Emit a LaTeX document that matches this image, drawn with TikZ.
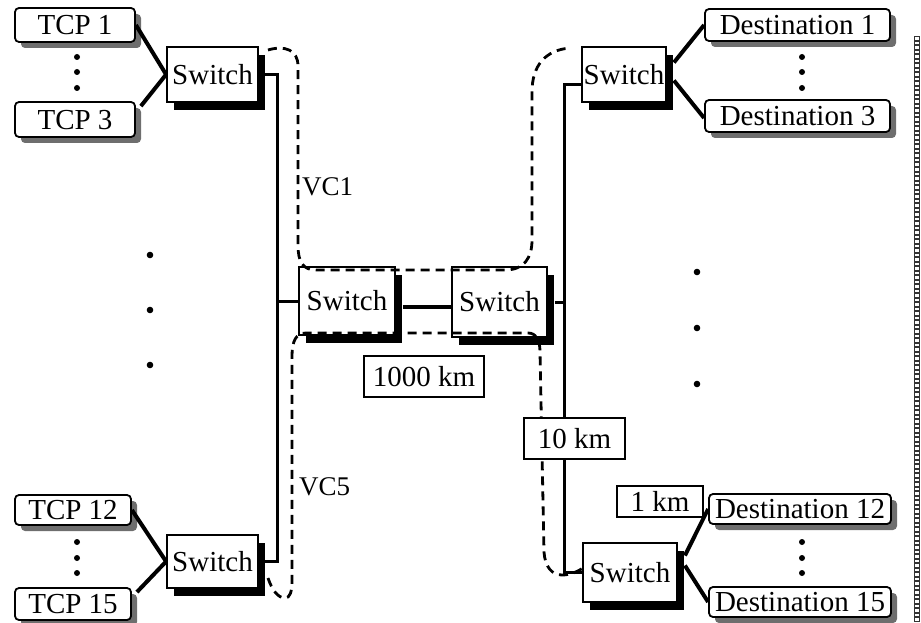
\documentclass[tikz,border=0pt]{standalone}
\usepackage{fontspec}
\setmainfont{Liberation Serif}
\usetikzlibrary{shadows,calc}
\definecolor{shadowgray}{RGB}{110,110,110}
\tikzset{
  every node/.style={font=\fontsize{29}{31}\selectfont},
  swbox/.style={draw, line width=1.8, fill=white, inner sep=0, text height=19.5, text depth=0,
    drop shadow={shadow xshift=7pt, shadow yshift=-8pt, fill=black, opacity=1}},
  hostbox/.style={draw, line width=1.8, fill=white, rounded corners=4pt, inner sep=0, text height=19.5, text depth=0,
    drop shadow={shadow xshift=6pt, shadow yshift=-6pt, fill=shadowgray, opacity=1}},
  distbox/.style={draw, line width=1.1, fill=white, inner sep=0, text height=19.5, text depth=0},
  conn/.style={line width=4},
  trunk/.style={line width=3},
  vcline/.style={line width=2.8, dash pattern=on 9pt off 6pt},
  vclabel/.style={font=\fontsize{27}{29}\selectfont, inner sep=0, anchor=west},
}
\begin{document}
\begin{tikzpicture}[x=1pt,y=-1pt]
\useasboundingbox (0,0) rectangle (921,623);

% host boxes
\node[hostbox, minimum width=120, minimum height=34] (tcp1) at (75,25) {TCP 1};
\node[hostbox, minimum width=120, minimum height=35] (tcp3) at (75,119.5) {TCP 3};
\node[hostbox, minimum width=116, minimum height=30] (tcp12) at (73,510) {TCP 12};
\node[hostbox, minimum width=116, minimum height=32] (tcp15) at (73,604) {TCP 15};
\node[hostbox, minimum width=185, minimum height=32] (d1) at (797.5,25) {Destination 1};
\node[hostbox, minimum width=185, minimum height=32] (d3) at (797.5,116) {Destination 3};
\node[hostbox, minimum width=182, minimum height=30] (d12) at (800,509) {Destination 12};
\node[hostbox, minimum width=182, minimum height=30] (d15) at (800,602) {Destination 15};

% switches
\node[swbox, minimum width=91, minimum height=55] (swTL) at (212.5,74.5) {Switch};
\node[swbox, minimum width=91, minimum height=53] (swBL) at (212.5,561.5) {Switch};
\node[swbox, minimum width=96, minimum height=68] (swML) at (347,301) {Switch};
\node[swbox, minimum width=95, minimum height=70] (swMR) at (499.5,302) {Switch};
\node[swbox, minimum width=84, minimum height=55] (swTR) at (624,74.5) {Switch};
\node[swbox, minimum width=94, minimum height=59] (swBR) at (630,572.5) {Switch};

% host connectors
\draw[conn] (tcp1.east) -- (swTL.west);
\draw[conn] ($(tcp3.north east)+(5,5)$) -- (swTL.west);
\draw[conn] (tcp12.east) -- (swBL.west);
\draw[conn] ($(tcp15.north east)+(5,5)$) -- (swBL.west);
\draw[conn] ($(swTR.east)+(7,-12)$) -- (d1.west);
\draw[conn] ($(swTR.east)+(7,6)$) -- ($(d3.west)+(0,2)$);
\draw[conn] ($(swBR.east)+(7,-17)$) -- (d12.west);
\draw[conn] ($(swBR.east)+(7,-7)$) -- (d15.west);

% trunks
\draw[trunk] (swTL.east) -- ++(19,0) |- (swBL.east);
\draw[trunk] (swML.west) -- ++(-22,0);
\draw[trunk] ($(swTR.west)+(0,10.5)$) -- ++(-17,0) |- (swBR.west);
\draw[trunk] ($(swMR.east)+(7,0)$) -- ++(11,0);
\draw[conn] ($(swML.east)+(7,6)$) -- ($(swMR.west)+(0,5)$);

% VC loops
\draw[vcline] (268,50) .. controls (285,45) and (298,50) .. (298,66) -- (298,245)
  .. controls (298,262) and (303,270) .. (316,270) -- (505,270)
  .. controls (524,270) and (532,258) .. (532,240) -- (532,92)
  .. controls (532,66) and (545,50) .. (570,48);
\draw[vcline] (268,578) .. controls (272,590) and (278,598) .. (285,598)
  .. controls (290,598) and (292,592) .. (292,580) -- (292,356)
  .. controls (292,341) and (296,333) .. (306,333) -- (528,333)
  .. controls (536,333) and (540,340) .. (540,352) -- (544,552)
  .. controls (545,567) and (552,575) .. (562,575)
  .. controls (570,575) and (577,572) .. (583,568);

\node[vclabel] (vc1) at (302,187) {VC1};
\node[vclabel] (vc5) at (299,487) {VC5};

% distance labels
\node[distbox, minimum width=120, minimum height=41] (k1000) at (424,376.5) {1000 km};
\node[distbox, minimum width=101, minimum height=41] (k10) at (574.5,438.5) {10 km};
\node[distbox, minimum width=86, minimum height=31] (k1) at (660,501.5) {1 km};

% dots
\foreach \y in {57,72,88} {\fill (77,\y) circle (3); \fill (802,\y) circle (3);}
\foreach \y in {542,558,573} {\fill (77,\y) circle (3); \fill (802,\y) circle (3);}
\foreach \y in {255,310,365} {\fill (150,\y) circle (3.3);}
\foreach \y in {272,328,384} {\fill (697,\y) circle (3.3);}

% right-hand column of small boxes
\foreach \i in {0,...,129} {
  \draw[black!80, line width=1] (914.5,37+4.5*\i) rectangle (919.5,40.5+4.5*\i);
}
\end{tikzpicture}
\end{document}
